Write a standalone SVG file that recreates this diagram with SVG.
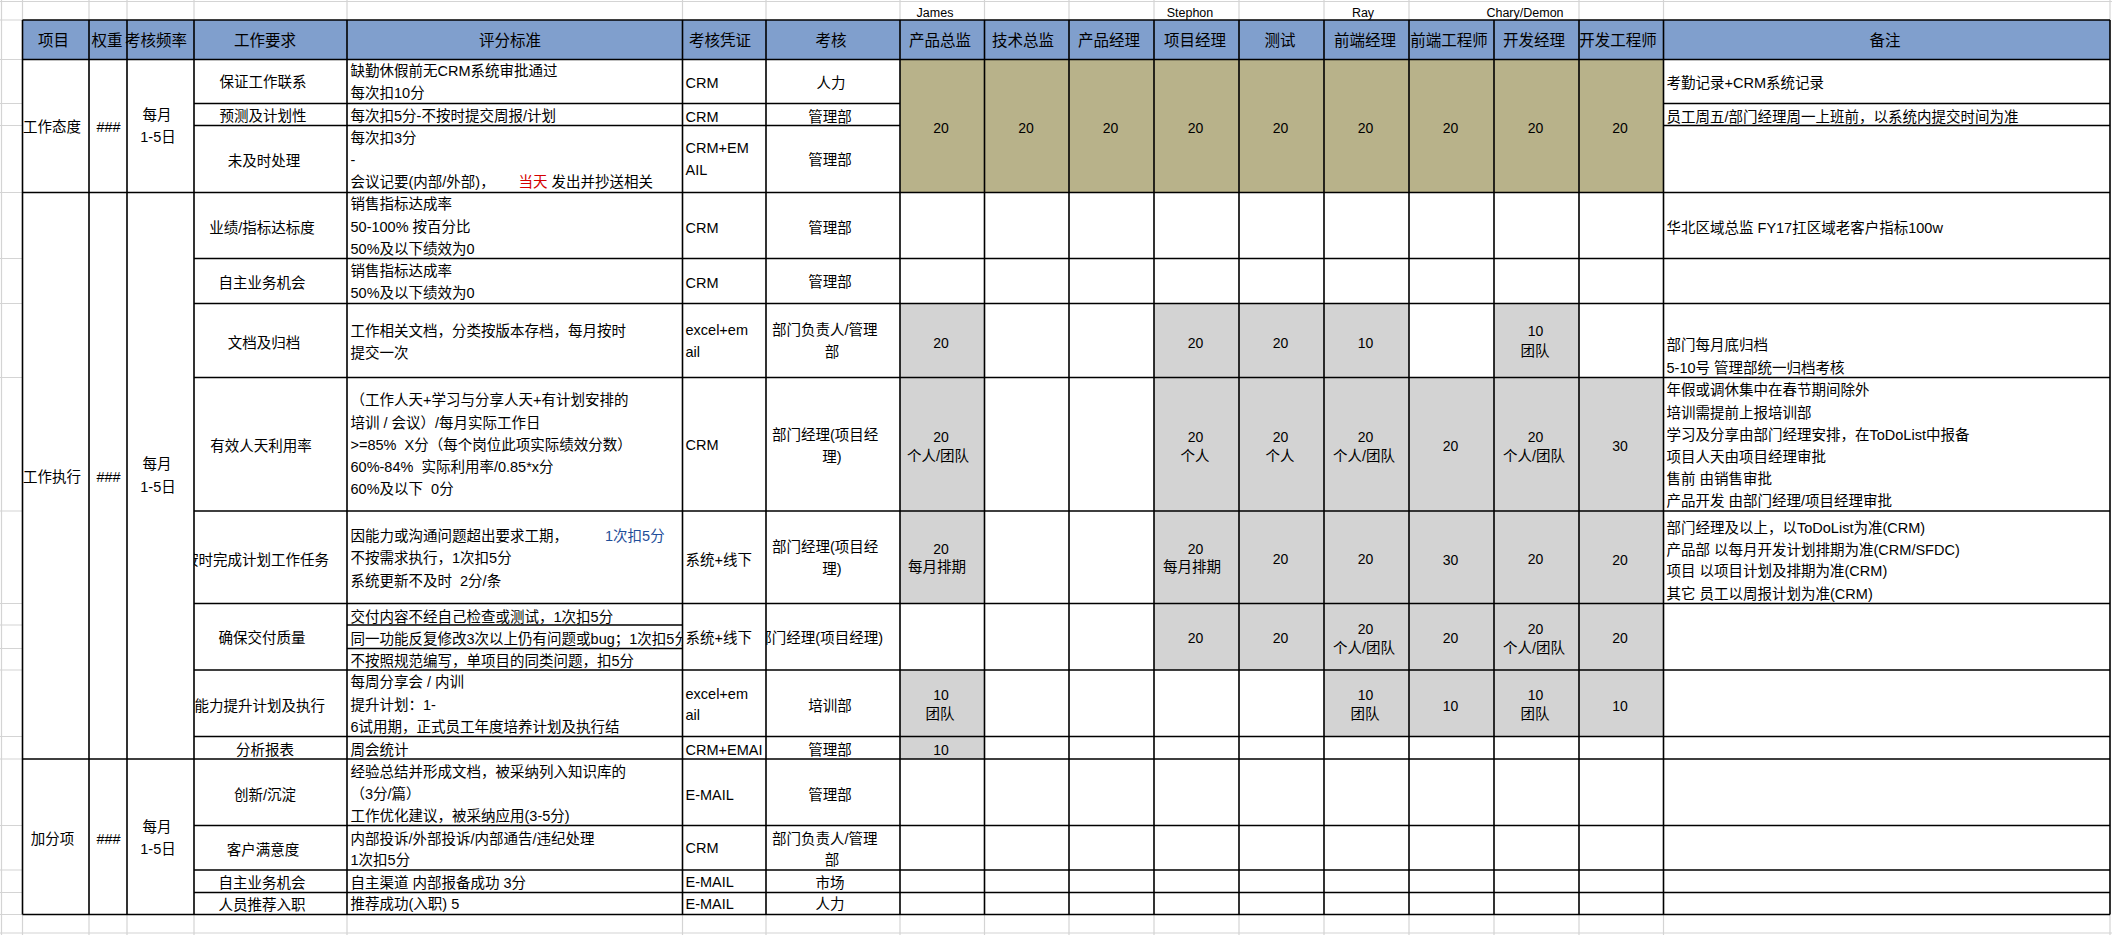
<svg xmlns="http://www.w3.org/2000/svg" width="2112" height="935" viewBox="0 0 2112 935">
<defs>
<style>
.t{font-family:"Liberation Sans","Noto Sans CJK SC",sans-serif;font-size:14.5px;fill:#000;dominant-baseline:central;white-space:pre}
.c{text-anchor:middle}
.e{text-anchor:end}
.h{font-size:15.5px}
.nm{font-size:12.5px}
.n{font-size:14px}
.red{fill:#d40000}
.blue{fill:#1f4e99}
.grid{stroke:#d4d4d4;stroke-width:1.2;fill:none}
.bl{stroke:#000;stroke-width:1.6;fill:none}
.hdr{fill:#809fcd}
.kh{fill:#b8b28a}
.gy{fill:#d3d3d3}
</style>
<clipPath id="clipPF"><rect x="347" y="600" width="335.5" height="80"/></clipPath>
<clipPath id="clipReq"><rect x="194" y="500" width="153" height="250"/></clipPath>
<clipPath id="clipKH"><rect x="766" y="600" width="134" height="80"/></clipPath>
</defs>
<rect x="0" y="0" width="2112" height="935" fill="#fff"/>

<g id="sheet-grid" class="grid">
<line x1="0" y1="1.5" x2="2112" y2="1.5"/>
<line x1="0" y1="933" x2="2112" y2="933"/>
<line x1="1.5" y1="0" x2="1.5" y2="935"/>
<path d="M22.5 0V20M89 0V20M127 0V20M194 0V20M347 0V20M682.5 0V20M766 0V20M900 0V20M984.5 0V20M1069 0V20M1154 0V20M1239 0V20M1324 0V20M1409 0V20M1579 0V20M1663.5 0V20M2110 0V20"/>
<path d="M22.5 914.5V935M89 914.5V935M127 914.5V935M194 914.5V935M347 914.5V935M682.5 914.5V935M766 914.5V935M900 914.5V935M984.5 914.5V935M1069 914.5V935M1154 914.5V935M1239 914.5V935M1324 914.5V935M1409 914.5V935M1494 914.5V935M1579 914.5V935M1663.5 914.5V935M2110 914.5V935"/>
<path d="M0 20H22.5M0 59.5H22.5M0 103.5H22.5M0 125.5H22.5M0 192.5H22.5M0 258.5H22.5M0 303.5H22.5M0 377.5H22.5M0 511H22.5M0 603.5H22.5M0 625H22.5M0 648.5H22.5M0 670H22.5M0 736.5H22.5M0 759H22.5M0 825.5H22.5M0 870H22.5M0 892.5H22.5M0 914.5H22.5"/>
</g>

<g id="fills">
<rect class="hdr" x="22.5" y="20" width="2087.5" height="39.5"/>
<rect class="kh" x="900" y="59.5" width="763.5" height="133"/>
<!-- r6 -->
<rect class="gy" x="900" y="303.5" width="84.5" height="74"/>
<rect class="gy" x="1154" y="303.5" width="170" height="74"/>
<rect class="gy" x="1324" y="303.5" width="85" height="74"/>
<rect class="gy" x="1494" y="303.5" width="85" height="74"/>
<!-- r7, r8 -->
<rect class="gy" x="900" y="377.5" width="84.5" height="226"/>
<rect class="gy" x="1154" y="377.5" width="509.5" height="226"/>
<!-- r9 -->
<rect class="gy" x="1154" y="603.5" width="509.5" height="66.5"/>
<!-- r10 -->
<rect class="gy" x="900" y="670" width="84.5" height="89"/>
<rect class="gy" x="1324" y="670" width="339.5" height="66.5"/>
</g>

<g id="connectors" class="bl">
<path d="M22.5 20H2110M22.5 59.5H2110M22.5 192.5H2110M22.5 759H2110M22.5 914.5H2110"/>
<path d="M194 103.5H900M1663.5 103.5H2110M194 125.5H900M1663.5 125.5H2110"/>
<path d="M194 258.5H2110M194 303.5H2110M194 377.5H2110M194 511H2110M194 603.5H2110M194 670H2110M194 736.5H2110M194 825.5H2110M194 870H2110M194 892.5H2110"/>
<path d="M347 625H682.5M347 648.5H682.5"/>
<path d="M22.5 20V914.5M89 20V914.5M127 20V914.5M194 20V914.5M347 20V914.5M682.5 20V914.5M766 20V914.5M900 20V914.5M984.5 20V914.5M1069 20V914.5M1154 20V914.5M1239 20V914.5M1324 20V914.5M1409 20V914.5M1494 20V914.5M1579 20V914.5M1663.5 20V914.5M2110 20V914.5"/>
</g>

<g id="names">
<text class="t nm c" x="935" y="12.5">James</text>
<text class="t nm c" x="1190" y="12.5">Stephon</text>
<text class="t nm c" x="1363" y="12.5">Ray</text>
<text class="t nm c" x="1525" y="12.5">Chary/Demon</text>
</g>

<g id="header">
<text class="t h c" x="53.5" y="40">项目</text>
<text class="t h c" x="107" y="40">权重</text>
<text class="t h c" x="156" y="40">考核频率</text>
<text class="t h c" x="265" y="40">工作要求</text>
<text class="t h c" x="510" y="40">评分标准</text>
<text class="t h c" x="720" y="40">考核凭证</text>
<text class="t h c" x="831" y="40">考核</text>
<text class="t h c" x="940" y="40">产品总监</text>
<text class="t h c" x="1023" y="40">技术总监</text>
<text class="t h c" x="1109" y="40">产品经理</text>
<text class="t h c" x="1195" y="40">项目经理</text>
<text class="t h c" x="1280" y="40">测试</text>
<text class="t h c" x="1365" y="40">前端经理</text>
<text class="t h c" x="1449" y="40">前端工程师</text>
<text class="t h c" x="1534" y="40">开发经理</text>
<text class="t h c" x="1618" y="40">开发工程师</text>
<text class="t h c" x="1885" y="40">备注</text>
</g>

<g id="group-attitude">
<text class="t c" x="52" y="126.5">工作态度</text>
<text class="t c" x="108.5" y="126.5">###</text>
<text class="t c" x="157" y="114.5">每月</text>
<text class="t c" x="158" y="136.5">1-5日</text>
</g>
<g id="group-execution">
<text class="t c" x="52" y="476.5">工作执行</text>
<text class="t c" x="108.5" y="476.5">###</text>
<text class="t c" x="157" y="464">每月</text>
<text class="t c" x="158" y="487">1-5日</text>
</g>
<g id="group-bonus">
<text class="t c" x="52.5" y="838.5">加分项</text>
<text class="t c" x="108.5" y="838.5">###</text>
<text class="t c" x="157" y="826.5">每月</text>
<text class="t c" x="158" y="848.5">1-5日</text>
</g>

<g id="attitude-scores">
<text class="t n c" x="941" y="127.5">20</text>
<text class="t n c" x="1026" y="127.5">20</text>
<text class="t n c" x="1110.5" y="127.5">20</text>
<text class="t n c" x="1195.5" y="127.5">20</text>
<text class="t n c" x="1280.5" y="127.5">20</text>
<text class="t n c" x="1365.5" y="127.5">20</text>
<text class="t n c" x="1450.5" y="127.5">20</text>
<text class="t n c" x="1535.5" y="127.5">20</text>
<text class="t n c" x="1620" y="127.5">20</text>
</g>

<g id="row-contact">
<text class="t c" x="263" y="82">保证工作联系</text>
<text class="t" x="350.5" y="71">缺勤休假前无CRM系统审批通过</text>
<text class="t" x="350.5" y="93">每次扣10分</text>
<text class="t" x="685.5" y="82.5">CRM</text>
<text class="t c" x="831" y="82.5">人力</text>
<text class="t" x="1666.5" y="82.5">考勤记录+CRM系统记录</text>
</g>
<g id="row-forecast">
<text class="t c" x="263" y="116">预测及计划性</text>
<text class="t" x="350.5" y="116">每次扣5分-不按时提交周报/计划</text>
<text class="t" x="685.5" y="116.5">CRM</text>
<text class="t c" x="830" y="116.5">管理部</text>
<text class="t" x="1666.5" y="117">员工周五/部门经理周一上班前，以系统内提交时间为准</text>
</g>
<g id="row-timely">
<text class="t c" x="264" y="160.5">未及时处理</text>
<text class="t" x="350.5" y="137.5">每次扣3分</text>
<text class="t" x="350.5" y="160">-</text>
<text class="t" x="350.5" y="181.5">会议记要(内部/外部)，</text>
<text class="t red" x="518.5" y="181.5">当天</text>
<text class="t" x="551.5" y="181.5">发出并抄送相关</text>
<text class="t" x="685.5" y="147.5">CRM+EM</text>
<text class="t" x="685.5" y="170">AIL</text>
<text class="t c" x="830" y="160">管理部</text>
</g>

<g id="row-kpi">
<text class="t c" x="262" y="227.5">业绩/指标达标度</text>
<text class="t" x="350.5" y="204">销售指标达成率</text>
<text class="t" x="350.5" y="226.5">50-100% 按百分比</text>
<text class="t" x="350.5" y="248.5">50%及以下绩效为0</text>
<text class="t" x="685.5" y="227.5">CRM</text>
<text class="t c" x="830" y="227.5">管理部</text>
<text class="t" x="1666.5" y="228">华北区域总监 FY17扛区域老客户指标100w</text>
</g>
<g id="row-opportunity">
<text class="t c" x="262" y="282.5">自主业务机会</text>
<text class="t" x="350.5" y="270.5">销售指标达成率</text>
<text class="t" x="350.5" y="292.5">50%及以下绩效为0</text>
<text class="t" x="685.5" y="282.5">CRM</text>
<text class="t c" x="830" y="282">管理部</text>
</g>
<g id="row-docs">
<text class="t c" x="264" y="342.5">文档及归档</text>
<text class="t" x="350.5" y="330.5">工作相关文档，分类按版本存档，每月按时</text>
<text class="t" x="350.5" y="352.5">提交一次</text>
<text class="t" x="685.5" y="330">excel+em</text>
<text class="t" x="685.5" y="351.5">ail</text>
<text class="t" x="772" y="330">部门负责人/管理</text>
<text class="t c" x="832" y="351.5">部</text>
<text class="t n c" x="941" y="343">20</text>
<text class="t n c" x="1195.5" y="343">20</text>
<text class="t n c" x="1280.5" y="343">20</text>
<text class="t n c" x="1365.5" y="343">10</text>
<text class="t n c" x="1535.5" y="331">10</text>
<text class="t c" x="1535" y="351">团队</text>
<text class="t" x="1666.5" y="345">部门每月底归档</text>
<text class="t" x="1666.5" y="367.5">5-10号 管理部统一归档考核</text>
</g>
<g id="row-utilization">
<text class="t c" x="261" y="445.5">有效人天利用率</text>
<text class="t" x="350.5" y="400">（工作人天+学习与分享人天+有计划安排的</text>
<text class="t" x="350.5" y="422.5">培训 / 会议）/每月实际工作日</text>
<text class="t" x="350.5" y="445">&gt;=85%  X分（每个岗位此项实际绩效分数）</text>
<text class="t" x="350.5" y="466.5">60%-84%  实际利用率/0.85*x分</text>
<text class="t" x="350.5" y="488.5">60%及以下  0分</text>
<text class="t" x="685.5" y="445">CRM</text>
<text class="t" x="772" y="434.5">部门经理(项目经</text>
<text class="t c" x="832" y="456.5">理)</text>
<text class="t n c" x="941" y="436.5">20</text>
<text class="t c" x="938" y="455.5">个人/团队</text>
<text class="t n c" x="1195.5" y="436.5">20</text>
<text class="t c" x="1195" y="455.5">个人</text>
<text class="t n c" x="1280.5" y="436.5">20</text>
<text class="t c" x="1280" y="455.5">个人</text>
<text class="t n c" x="1365.5" y="436.5">20</text>
<text class="t c" x="1364" y="455.5">个人/团队</text>
<text class="t n c" x="1450.5" y="446">20</text>
<text class="t n c" x="1535.5" y="436.5">20</text>
<text class="t c" x="1534" y="455.5">个人/团队</text>
<text class="t n c" x="1620" y="446">30</text>
<text class="t" x="1666.5" y="390">年假或调休集中在春节期间除外</text>
<text class="t" x="1666.5" y="412.5">培训需提前上报培训部</text>
<text class="t" x="1666.5" y="434.5">学习及分享由部门经理安排，在ToDoList中报备</text>
<text class="t" x="1666.5" y="456.5">项目人天由项目经理审批</text>
<text class="t" x="1666.5" y="479">售前 由销售审批</text>
<text class="t" x="1666.5" y="501">产品开发 由部门经理/项目经理审批</text>
</g>
<g id="row-ontime">
<text class="t e" x="329" y="560" clip-path="url(#clipReq)">按时完成计划工作任务</text>
<text class="t" x="350.5" y="536">因能力或沟通问题超出要求工期，</text>
<text class="t blue" x="605" y="536">1次扣5分</text>
<text class="t" x="350.5" y="558">不按需求执行，1次扣5分</text>
<text class="t" x="350.5" y="580.5">系统更新不及时  2分/条</text>
<text class="t" x="685.5" y="560">系统+线下</text>
<text class="t" x="772" y="546.5">部门经理(项目经</text>
<text class="t c" x="832" y="568.5">理)</text>
<text class="t n c" x="941" y="548.5">20</text>
<text class="t c" x="937" y="567">每月排期</text>
<text class="t n c" x="1195.5" y="548.5">20</text>
<text class="t c" x="1192" y="567">每月排期</text>
<text class="t n c" x="1280.5" y="558.5">20</text>
<text class="t n c" x="1365.5" y="558.5">20</text>
<text class="t n c" x="1450.5" y="560">30</text>
<text class="t n c" x="1535.5" y="558.5">20</text>
<text class="t n c" x="1620" y="560">20</text>
<text class="t" x="1666.5" y="527.5">部门经理及以上，以ToDoList为准(CRM)</text>
<text class="t" x="1666.5" y="549.5">产品部 以每月开发计划排期为准(CRM/SFDC)</text>
<text class="t" x="1666.5" y="571">项目 以项目计划及排期为准(CRM)</text>
<text class="t" x="1666.5" y="593.5">其它 员工以周报计划为准(CRM)</text>
</g>
<g id="row-quality">
<text class="t c" x="262" y="637.5">确保交付质量</text>
<text class="t" x="350.5" y="616.5">交付内容不经自己检查或测试，1次扣5分</text>
<text class="t" x="350.5" y="639" clip-path="url(#clipPF)">同一功能反复修改3次以上仍有问题或bug；1次扣5分</text>
<text class="t" x="350.5" y="661">不按照规范编写，单项目的同类问题，扣5分</text>
<text class="t" x="685.5" y="638">系统+线下</text>
<text class="t e" x="883" y="638" clip-path="url(#clipKH)">部门经理(项目经理)</text>
<text class="t n c" x="1195.5" y="638">20</text>
<text class="t n c" x="1280.5" y="637.5">20</text>
<text class="t n c" x="1365.5" y="628.5">20</text>
<text class="t c" x="1364" y="647.5">个人/团队</text>
<text class="t n c" x="1450.5" y="638">20</text>
<text class="t n c" x="1535.5" y="628.5">20</text>
<text class="t c" x="1534" y="647.5">个人/团队</text>
<text class="t n c" x="1620" y="638">20</text>
</g>
<g id="row-ability">
<text class="t e" x="325" y="706" clip-path="url(#clipReq)">能力提升计划及执行</text>
<text class="t" x="350.5" y="681.5">每周分享会 / 内训</text>
<text class="t" x="350.5" y="705">提升计划：1-</text>
<text class="t" x="350.5" y="726.5">6试用期，正式员工年度培养计划及执行结</text>
<text class="t" x="685.5" y="693.5">excel+em</text>
<text class="t" x="685.5" y="715">ail</text>
<text class="t c" x="830" y="706">培训部</text>
<text class="t n c" x="941" y="694.5">10</text>
<text class="t c" x="940" y="713.5">团队</text>
<text class="t n c" x="1365.5" y="694.5">10</text>
<text class="t c" x="1365" y="713.5">团队</text>
<text class="t n c" x="1450.5" y="706">10</text>
<text class="t n c" x="1535.5" y="694.5">10</text>
<text class="t c" x="1535" y="713.5">团队</text>
<text class="t n c" x="1620" y="706">10</text>
</g>
<g id="row-report">
<text class="t c" x="265" y="749.5">分析报表</text>
<text class="t" x="350.5" y="749.5">周会统计</text>
<text class="t" x="685.5" y="749.5">CRM+EMAI</text>
<text class="t c" x="830" y="749.5">管理部</text>
<text class="t n c" x="941" y="749.5">10</text>
</g>
<g id="row-innovation">
<text class="t c" x="265" y="795">创新/沉淀</text>
<text class="t" x="350.5" y="771.5">经验总结并形成文档，被采纳列入知识库的</text>
<text class="t" x="350.5" y="793.5">（3分/篇）</text>
<text class="t" x="350.5" y="815.5">工作优化建议，被采纳应用(3-5分)</text>
<text class="t" x="685.5" y="795">E-MAIL</text>
<text class="t c" x="830" y="795">管理部</text>
</g>
<g id="row-satisfaction">
<text class="t c" x="263" y="850">客户满意度</text>
<text class="t" x="350.5" y="838.5">内部投诉/外部投诉/内部通告/违纪处理</text>
<text class="t" x="350.5" y="859.5">1次扣5分</text>
<text class="t" x="685.5" y="847.5">CRM</text>
<text class="t" x="772" y="838.5">部门负责人/管理</text>
<text class="t c" x="832" y="859.5">部</text>
</g>
<g id="row-bonus-opportunity">
<text class="t c" x="262" y="882.5">自主业务机会</text>
<text class="t" x="350.5" y="882.5">自主渠道 内部报备成功 3分</text>
<text class="t" x="685.5" y="882">E-MAIL</text>
<text class="t c" x="830" y="882.5">市场</text>
</g>
<g id="row-referral">
<text class="t c" x="262" y="905">人员推荐入职</text>
<text class="t" x="350.5" y="904">推荐成功(入职) 5</text>
<text class="t" x="685.5" y="903.5">E-MAIL</text>
<text class="t c" x="830" y="904">人力</text>
</g>
</svg>
